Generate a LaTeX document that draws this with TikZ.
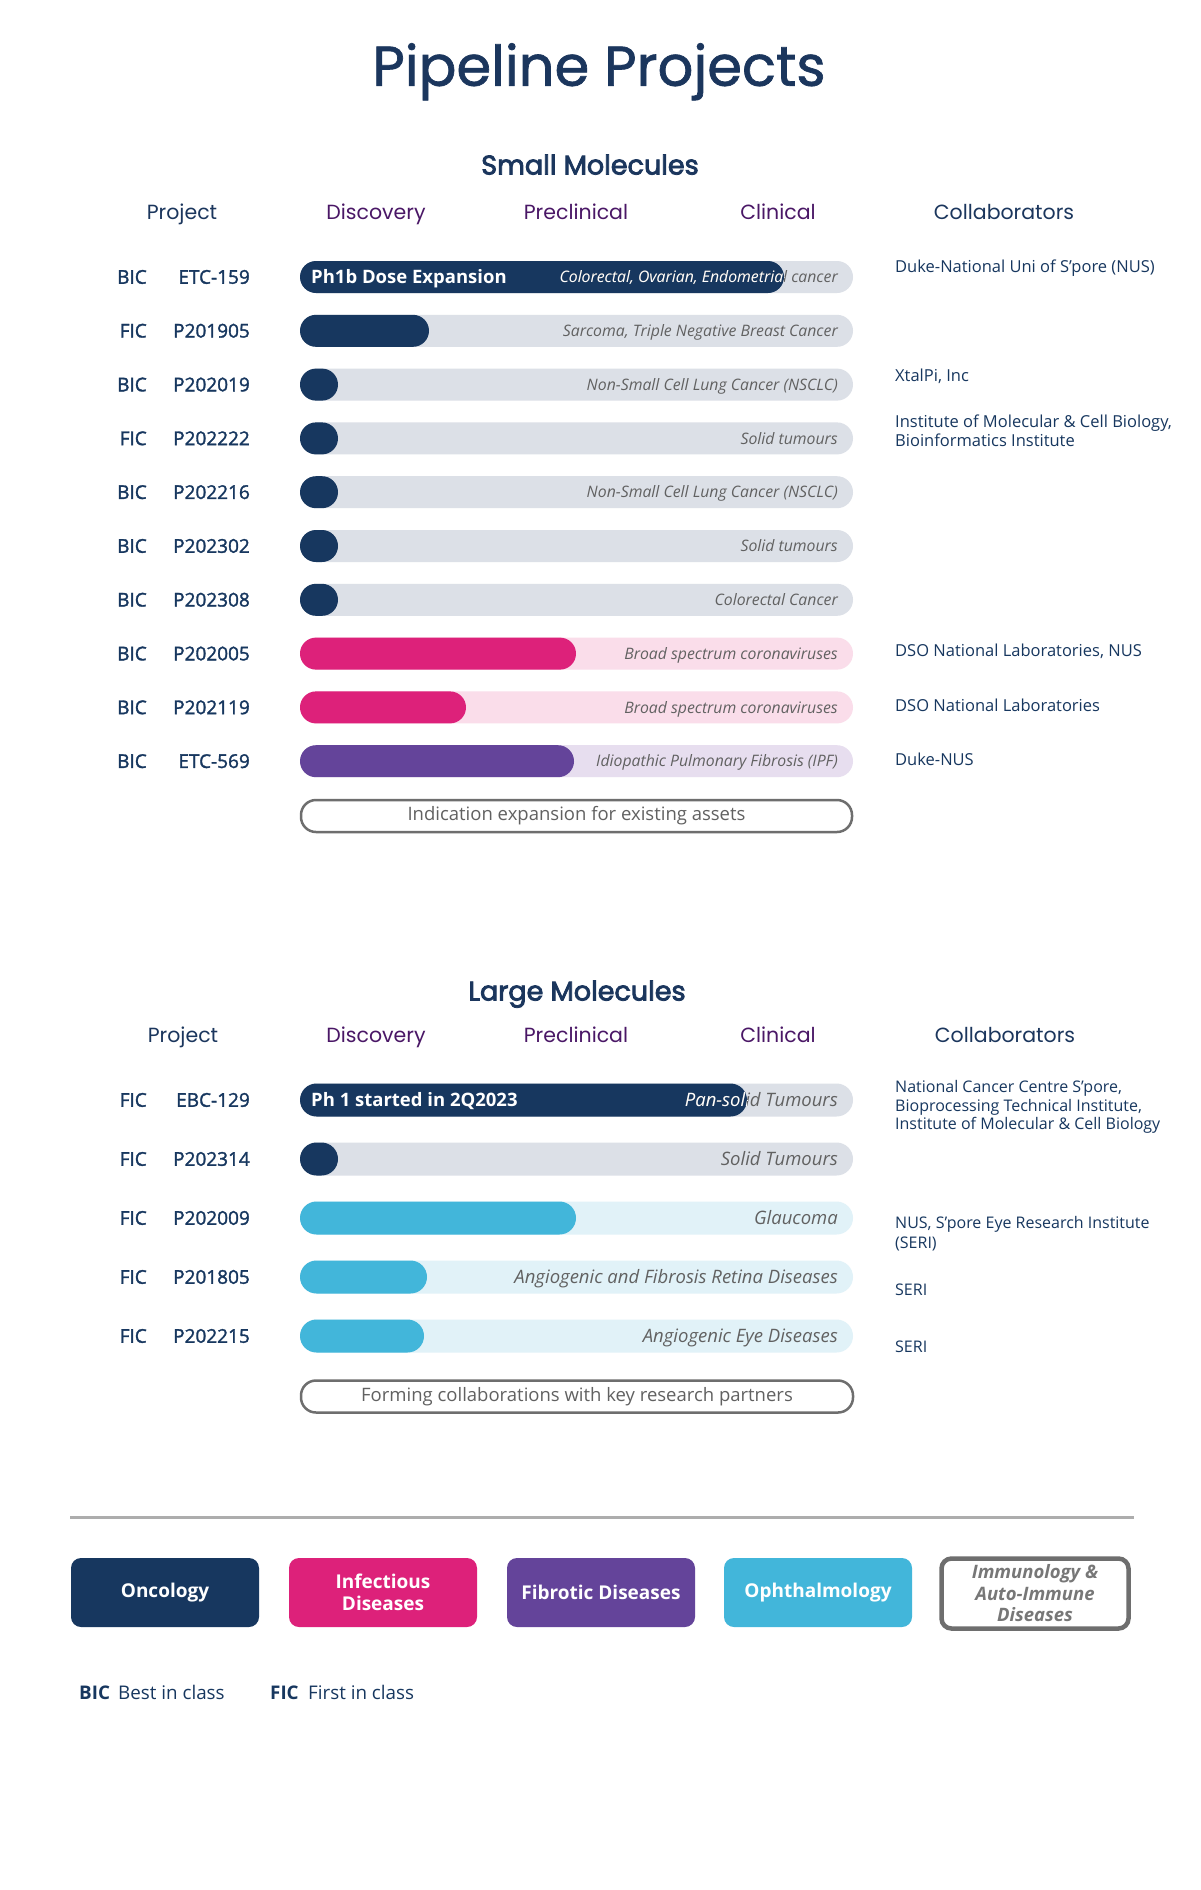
\documentclass[tikz,border=0pt]{standalone}
\usepackage{fontspec}
\setmainfont{Open Sans}
\newfontfamily\headfont{Poppins}
\newfontfamily\titlefont[FakeBold=1.2]{Poppins}
\newfontfamily\headsemi[FakeBold=3]{Poppins}
\newfontfamily\medfont[FakeBold=1.6]{Open Sans}
\definecolor{navy}{HTML}{17375F}
\definecolor{titlec}{HTML}{1B365D}
\definecolor{phasec}{HTML}{4A1766}
\definecolor{trackgray}{HTML}{DCE0E7}
\definecolor{pinkc}{HTML}{DD217A}
\definecolor{pinklt}{HTML}{FADDEA}
\definecolor{purc}{HTML}{64449A}
\definecolor{purlt}{HTML}{E7DEEF}
\definecolor{bluec}{HTML}{42B6DA}
\definecolor{bluelt}{HTML}{E1F2F8}
\definecolor{lblgray}{HTML}{616161}
\definecolor{boxgray}{HTML}{6E6E6E}
\definecolor{imgray}{HTML}{777777}
\definecolor{linegray}{HTML}{ADADAD}
\tikzset{
  capc/.style={text height=#1,text depth=0pt,inner sep=0pt},
  titlest/.style={capc=39.5pt,font=\titlefont\fontsize{56}{60}\selectfont,text=titlec},
  sect/.style={capc=19pt,font=\headsemi\fontsize{27}{30}\selectfont,text=titlec},
  colh/.style={capc=14.5pt,font=\headfont\fontsize{20.5}{24}\selectfont,text=titlec},
  colp/.style={colh,text=phasec},
  proj/.style={capc=13.5pt,anchor=east,font=\medfont\fontsize{19}{22}\selectfont,text=navy},
  slbl/.style={capc=11.2pt,anchor=east,font=\itshape\fontsize{15.8}{18}\selectfont},
  llbl/.style={capc=13.1pt,anchor=east,font=\itshape\fontsize{18.5}{21}\selectfont},
  collab/.style={capc=11.7pt,anchor=west,font=\fontsize{16.5}{19}\selectfont,text=navy},
  lcollab/.style={capc=11.4pt,anchor=west,font=\fontsize{16}{19}\selectfont,text=navy},
  inbar/.style={capc=13.1pt,anchor=west,font=\bfseries\fontsize{18.5}{21}\selectfont,text=white},
  outline/.style={draw=boxgray,line width=2.5pt,rounded corners=15pt,minimum width=551pt,
    minimum height=32pt,fill=white,inner sep=0pt,font=\fontsize{18.5}{21}\selectfont,text=lblgray},
  cat/.style={rounded corners=10pt,minimum width=188pt,minimum height=69pt,align=center,
    inner sep=0pt,text=white,font=\bfseries\fontsize{19}{22}\selectfont},
  legb/.style={capc=13.4pt,anchor=west,font=\bfseries\fontsize{18.8}{21}\selectfont,text=navy},
  legt/.style={capc=13.4pt,anchor=west,font=\fontsize{18.8}{21}\selectfont,text=navy},
}
% #1 name, #2 y, #3 fill end, #4 fill colour, #5 track colour, #6 label style, #7 label, #8 half height
\newcommand\pipebar[8]{%
  \fill[#5,rounded corners=#8pt] (300,#2-#8) rectangle (853,#2+#8);
  \fill[#4,rounded corners=#8pt] (300,#2-#8) rectangle (#3,#2+#8);
  \node[#6,text=lblgray] (#1) at (838,#2) {#7};
  \begin{scope}
    \clip[rounded corners=#8pt] (300,#2-#8) rectangle (#3,#2+#8);
    \node[#6,text=white] (#1w) at (838,#2) {#7};
  \end{scope}}
\newcommand\projrow[4]{% #1 name, #2 y, #3 class, #4 project
  \node[proj] (#1c) at (147,#2) {#3};
  \node[proj] (#1p) at (250,#2) {#4};}
\begin{document}
\begin{tikzpicture}[x=1pt,y=-1pt]
\useasboundingbox (0,0) rectangle (1200,1890);
\fill[white] (0,0) rectangle (1200,1890);

\node[titlest] (title) at (599,66) {Pipeline Projects};

% ---------------- Small molecules ----------------
\node[sect] (smh) at (590,165) {Small Molecules};
\node[colh] (sh1) at (182,212) {Project};
\node[colp] (sh2) at (376,212) {Discovery};
\node[colp] (sh3) at (576,212) {Preclinical};
\node[colp] (sh4) at (778,212) {Clinical};
\node[colh] (sh5) at (1004,212) {Collaborators};

\projrow{s1}{277}{BIC}{ETC-159}
\pipebar{s1b}{277}{784}{navy}{trackgray}{slbl}{Colorectal, Ovarian, Endometrial cancer}{16}
\node[inbar] (s1t) at (311,277) {Ph1b Dose Expansion};
\node[collab] (s1k) at (895,267) {Duke-National Uni of S’pore (NUS)};

\projrow{s2}{330.8}{FIC}{P201905}
\pipebar{s2b}{330.8}{429}{navy}{trackgray}{slbl}{Sarcoma, Triple Negative Breast Cancer}{16}

\projrow{s3}{384.6}{BIC}{P202019}
\pipebar{s3b}{384.6}{338}{navy}{trackgray}{slbl}{Non-Small Cell Lung Cancer (NSCLC)}{16}
\node[collab] (s3k) at (895,376) {XtalPi, Inc};

\projrow{s4}{438.4}{FIC}{P202222}
\pipebar{s4b}{438.4}{338}{navy}{trackgray}{slbl}{Solid tumours}{16}
\node[collab] (s4k) at (895,422) {Institute of Molecular \& Cell Biology,};
\node[collab] (s4k2) at (895,441) {Bioinformatics Institute};

\projrow{s5}{492.2}{BIC}{P202216}
\pipebar{s5b}{492.2}{338}{navy}{trackgray}{slbl}{Non-Small Cell Lung Cancer (NSCLC)}{16}

\projrow{s6}{546}{BIC}{P202302}
\pipebar{s6b}{546}{338}{navy}{trackgray}{slbl}{Solid tumours}{16}

\projrow{s7}{599.8}{BIC}{P202308}
\pipebar{s7b}{599.8}{338}{navy}{trackgray}{slbl}{Colorectal Cancer}{16}

\projrow{s8}{653.6}{BIC}{P202005}
\pipebar{s8b}{653.6}{576}{pinkc}{pinklt}{slbl}{Broad spectrum coronaviruses}{16}
\node[collab] (s8k) at (895,651) {DSO National Laboratories, NUS};

\projrow{s9}{707.4}{BIC}{P202119}
\pipebar{s9b}{707.4}{466}{pinkc}{pinklt}{slbl}{Broad spectrum coronaviruses}{16}
\node[collab] (s9k) at (895,706) {DSO National Laboratories};

\projrow{s10}{761.2}{BIC}{ETC-569}
\pipebar{s10b}{761.2}{574}{purc}{purlt}{slbl}{Idiopathic Pulmonary Fibrosis (IPF)}{16}
\node[collab] (s10k) at (895,760) {Duke-NUS};

\node[outline] (sbox) at (576.5,816) {Indication expansion for existing assets};

% ---------------- Large molecules ----------------
\node[sect] (lmh) at (577,991) {Large Molecules};
\node[colh] (lh1) at (183,1035) {Project};
\node[colp] (lh2) at (376,1035) {Discovery};
\node[colp] (lh3) at (576,1035) {Preclinical};
\node[colp] (lh4) at (778,1035) {Clinical};
\node[colh] (lh5) at (1005,1035) {Collaborators};

\projrow{l1}{1100}{FIC}{EBC-129}
\pipebar{l1b}{1100}{747}{navy}{trackgray}{llbl}{Pan-solid Tumours}{16.5}
\node[inbar] (l1t) at (311,1100) {Ph 1 started in 2Q2023};
\node[lcollab] (l1k) at (895,1087) {National Cancer Centre S’pore,};
\node[lcollab] (l1k2) at (895,1105.5) {Bioprocessing Technical Institute,};
\node[lcollab] (l1k3) at (895,1124) {Institute of Molecular \& Cell Biology};

\projrow{l2}{1159}{FIC}{P202314}
\pipebar{l2b}{1159}{338}{navy}{trackgray}{llbl}{Solid Tumours}{16.5}

\projrow{l3}{1218}{FIC}{P202009}
\pipebar{l3b}{1218}{576}{bluec}{bluelt}{llbl}{Glaucoma}{16.5}
\node[lcollab] (l3k) at (895,1222.5) {NUS, S’pore Eye Research Institute};
\node[lcollab] (l3k2) at (895,1243) {(SERI)};

\projrow{l4}{1277}{FIC}{P201805}
\pipebar{l4b}{1277}{427}{bluec}{bluelt}{llbl}{Angiogenic and Fibrosis Retina Diseases}{16.5}
\node[lcollab] (l4k) at (895,1289.5) {SERI};

\projrow{l5}{1336}{FIC}{P202215}
\pipebar{l5b}{1336}{424}{bluec}{bluelt}{llbl}{Angiogenic Eye Diseases}{16.5}
\node[lcollab] (l5k) at (895,1346.5) {SERI};

\node[outline,minimum width=552pt] (lbox) at (577,1396.5) {Forming collaborations with key research partners};

% ---------------- Legend ----------------
\draw[linegray,line width=3pt] (70,1517) -- (1134,1517);

\node[cat,fill=navy] (c1) at (165,1592.5) {Oncology};
\node[cat,fill=pinkc] (c2) at (383,1592.5) {Infectious\\Diseases};
\node[cat,fill=purc] (c3) at (601,1592.5) {Fibrotic Diseases};
\node[cat,fill=bluec] (c4) at (818,1592.5) {Ophthalmology};
\node[cat,draw=boxgray,line width=4.5pt,fill=white,minimum width=187pt,minimum height=70pt,
  text=imgray,font=\bfseries\itshape\fontsize{18.5}{21.5}\selectfont] (c5) at (1035,1593.5)
  {Immunology \&\\Auto-Immune\\Diseases};

\node[legb] (bic) at (79,1693) {BIC};
\node[legt] (bict) at (118,1693) {Best in class};
\node[legb] (fic) at (270,1693) {FIC};
\node[legt] (fict) at (308,1693) {First in class};
\end{tikzpicture}
\end{document}
